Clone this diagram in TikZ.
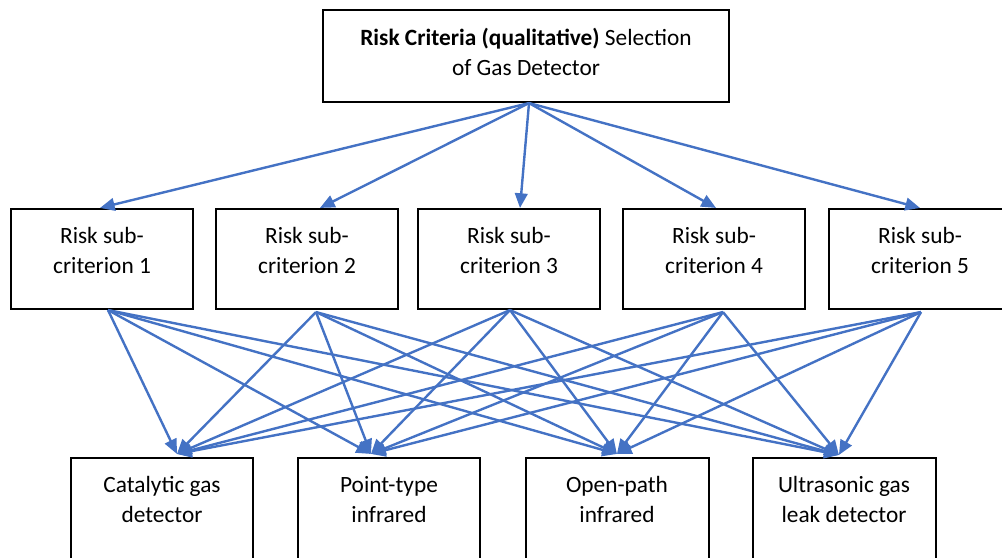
\documentclass[tikz,border=0pt]{standalone}
\usepackage{fontspec}
\setmainfont{Carlito}
\usetikzlibrary{arrows.meta,calc,fit}
\definecolor{linkblue}{HTML}{4472C4}
\begin{document}
\begin{tikzpicture}[x=0.75pt,y=-0.75pt,
  box/.style={draw=black,line width=1.6pt,inner sep=0pt},
  lbl/.style={align=center,font=\fontsize{17.5}{22.5}\selectfont,anchor=base,inner sep=0pt},
  link/.style={draw=linkblue,line width=1.8pt,-{Triangle[length=11pt,width=9.5pt]}}]
\useasboundingbox (0,0) rectangle (1002,557);
\clip (0,0) rectangle (1002,557);

% goal (label anchored at the baseline of its last line)
\node[box,fit={(323,10) (729,102)}] (goal) {};
\node[lbl] at (526,75) {\textbf{Risk Criteria (qualitative)} Selection\\of Gas Detector};

% sub-criteria
\foreach \i/\x in {1/11,2/216,3/418,4/623,5/829}{
  \node[box,fit={(\x,209) (\x+182,309)}] (s\i) {};
  \node[lbl] at (\x+91,273) {Risk sub-\\criterion \i};
}

% alternatives (boxes run past the lower edge)
\node[box,fit={(71,458) (253,600)}] (a1) {};
\node[box,fit={(298,458) (480,600)}] (a2) {};
\node[box,fit={(526,458) (709,600)}] (a3) {};
\node[box,fit={(753,458) (936,600)}] (a4) {};
\node[lbl] at (162,522) {Catalytic gas\\detector};
\node[lbl] at (389,522) {Point-type\\infrared};
\node[lbl] at (617,522) {Open-path\\infrared};
\node[lbl] at (844,522) {Ultrasonic gas\\leak detector};

% connector ends
\coordinate (g0) at ($(goal.south)+(3,0)$);
\coordinate (s1in) at ($(s1.north)+(-2,0)$);
\coordinate (s2in) at ($(s2.north)+(13,0)$);
\coordinate (s3in) at ($(s3.north)+(11,0)$);
\coordinate (s4in) at ($(s4.north)+(2,0)$);
\coordinate (s5in) at ($(s5.north)+(0,0)$);
\coordinate (s1out) at ($(s1.south)+(6,0)$);
\coordinate (s2out) at ($(s2.south)+(9,2)$);
\coordinate (s3out) at ($(s3.south)+(1,0)$);
\coordinate (s4out) at ($(s4.south)+(9,2)$);
\coordinate (s5out) at ($(s5.south)+(1,2)$);
\coordinate (a1in) at ($(a1.north west)+(107,-3)$);
\coordinate (a2in) at ($(a2.north west)+(74,-3)$);
\coordinate (a3in) at ($(a3.north west)+(92,-3)$);
\coordinate (a4in) at ($(a4.north west)+(87,-2)$);

\foreach \i in {1,...,5}{
  \draw[link] (g0) -- (s\i in);
  \foreach \j in {1,...,4}{
    \draw[link] (s\i out) -- (a\j in);
  }
}
\end{tikzpicture}
\end{document}
